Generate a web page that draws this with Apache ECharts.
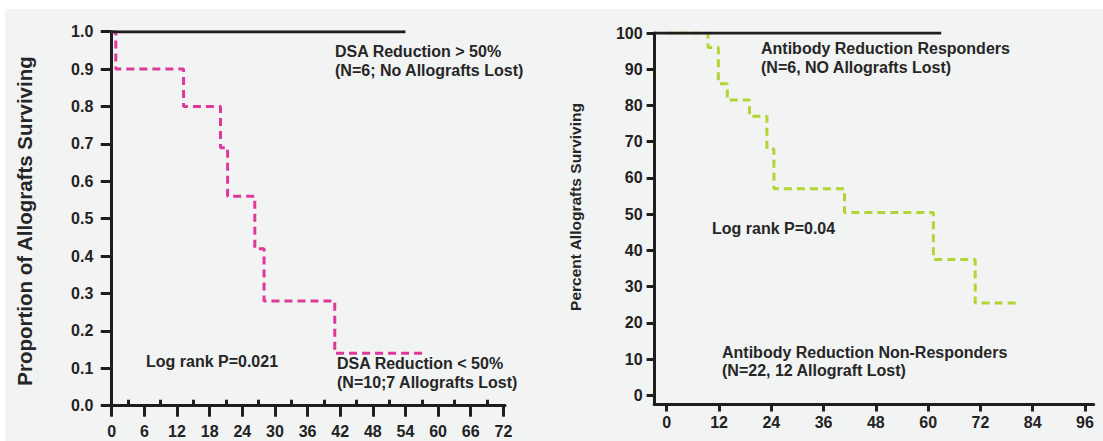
<!DOCTYPE html>
<html>
<head>
<meta charset="utf-8">
<title>Allograft survival by antibody reduction</title>
<script src="https://cdn.jsdelivr.net/npm/echarts@6/dist/echarts.min.js"></script>
<style>
  html, body { margin: 0; padding: 0; background: #ffffff; }
  #panel { position: absolute; left: 5px; top: 9px; width: 1098px; height: 432px; background: #f2f3f3; }
  #chart { position: absolute; left: 0; top: 0; width: 1103px; height: 441px; }
</style>
</head>
<body>
<div id="panel"></div>
<div id="chart"></div>
<script>
// ---- Left panel: DSA reduction (proportion of allografts surviving) ----
// Kaplan-Meier steps for DSA reduction < 50% (month of event, survival after it)
const dsaLowMonths   = [0, 0.75, 13.2, 20, 21.3, 26.3, 28, 41, 57.3];
const dsaLowSurvival = [1, 0.9, 0.8, 0.69, 0.56, 0.42, 0.28, 0.14, 0.14];
// DSA reduction > 50%: no losses over follow-up
const dsaHighMonths   = [0, 54];
const dsaHighSurvival = [1, 1];
const dsaXTicks      = [0, 6, 12, 18, 24, 30, 36, 42, 48, 54, 60, 66, 72];
const dsaXMinorTicks = [3, 9, 15, 21, 27, 33, 39, 45, 51, 57, 63, 69];
const dsaYTicks      = [0, 0.1, 0.2, 0.3, 0.4, 0.5, 0.6, 0.7, 0.8, 0.9, 1.0];

// ---- Right panel: antibody reduction (percent allografts surviving) ----
// Non-responders (N=22)
const abNonMonths   = [0, 9.5, 11.85, 13.9, 19, 23, 24.6, 40.8, 61.2, 70.8, 80.3];
const abNonSurvival = [100, 96, 86, 81.5, 77, 68, 57, 50.5, 37.5, 25.5, 25.5];
// Responders (N=6): flat at 100 from the axis to last follow-up
const abRespMonths   = [-2.9, 63];
const abRespSurvival = [100, 100];
const abXTicks = [0, 12, 24, 36, 48, 60, 72, 84, 96];
const abYTicks = [0, 10, 20, 30, 40, 50, 60, 70, 80, 90, 100];

const ink = '#1e1e1e';
const textInk = '#262626';
const pink = '#e0389a';
const green = '#b5d334';
const fontFamily = '"Liberation Sans", Arial, Helvetica, sans-serif';

const zip = (xs, ys) => xs.map((x, i) => [x, ys[i]]);

const tickFont = { fontFamily, fontWeight: 'bold', fontSize: 16, color: '#222' };

function note(text, x, y) {
  return {
    type: 'text', x, y, silent: true,
    style: {
      text, fill: textInk, fontFamily, fontWeight: 'bold', fontSize: 16,
      textAlign: 'left', textVerticalAlign: 'middle'
    }
  };
}

const chart = echarts.init(document.getElementById('chart'), null, { renderer: 'svg' });

chart.setOption({
  backgroundColor: 'transparent',
  animation: false,
  grid: [
    { left: 106.3, top: 31.7, width: 398.7, height: 378.5, outerBoundsMode: 'none' },
    { left: 654.1, top: 33, width: 439.6, height: 371, outerBoundsMode: 'none' }
  ],
  xAxis: [
    {
      type: 'value', gridIndex: 0, min: -1, max: 72.3,
      axisLine: { onZero: true, onZeroAxisIndex: 0, lineStyle: { color: ink, width: 3 } },
      axisTick: { show: true, customValues: dsaXTicks, length: 11, lineStyle: { color: ink, width: 3 } },
      axisLabel: Object.assign({ customValues: dsaXTicks, margin: 13 }, tickFont),
      splitLine: { show: false }
    },
    {
      type: 'value', gridIndex: 0, min: -1, max: 72.3, position: 'bottom',
      axisLine: { show: false, onZero: true, onZeroAxisIndex: 0 },
      axisTick: { show: true, inside: true, customValues: dsaXMinorTicks, length: 6, lineStyle: { color: ink, width: 3 } },
      axisLabel: { show: false },
      splitLine: { show: false }
    },
    {
      type: 'value', gridIndex: 1, min: -2.9, max: 98,
      axisLine: { onZero: false, lineStyle: { color: ink, width: 3 } },
      axisTick: { show: true, customValues: abXTicks, length: 7.5, lineStyle: { color: ink, width: 3 } },
      axisLabel: Object.assign({ customValues: abXTicks, margin: 10.5 }, tickFont),
      splitLine: { show: false }
    }
  ],
  yAxis: [
    {
      type: 'value', gridIndex: 0, min: -0.012, max: 1,
      axisLine: { onZero: true, lineStyle: { color: ink, width: 3 } },
      axisTick: { show: true, customValues: dsaYTicks, length: 11, lineStyle: { color: ink, width: 3 } },
      axisLabel: Object.assign({ customValues: dsaYTicks, margin: 13, formatter: v => v.toFixed(1) }, tickFont),
      splitLine: { show: false }
    },
    {
      type: 'value', gridIndex: 1, min: -2.35, max: 100,
      axisLine: { onZero: false, lineStyle: { color: ink, width: 3 } },
      axisTick: { show: true, customValues: abYTicks, length: 7.5, lineStyle: { color: ink, width: 3 } },
      axisLabel: Object.assign({ customValues: abYTicks, margin: 11.5 }, tickFont),
      splitLine: { show: false }
    }
  ],
  series: [
    {
      name: 'DSA Reduction < 50%', type: 'line', step: 'end',
      xAxisIndex: 0, yAxisIndex: 0, z: 2,
      data: zip(dsaLowMonths, dsaLowSurvival), showSymbol: false, symbol: 'none',
      lineStyle: { color: pink, width: 3, type: [8, 5] }
    },
    {
      name: 'DSA Reduction > 50%', type: 'line',
      xAxisIndex: 0, yAxisIndex: 0, z: 3,
      data: zip(dsaHighMonths, dsaHighSurvival), showSymbol: false, symbol: 'none',
      lineStyle: { color: ink, width: 3 }
    },
    {
      name: 'Antibody Reduction Non-Responders', type: 'line', step: 'end',
      xAxisIndex: 2, yAxisIndex: 1, z: 2,
      data: zip(abNonMonths, abNonSurvival), showSymbol: false, symbol: 'none',
      lineStyle: { color: green, width: 3, type: [8, 5] }
    },
    {
      name: 'Antibody Reduction Responders', type: 'line',
      xAxisIndex: 2, yAxisIndex: 1, z: 3,
      data: zip(abRespMonths, abRespSurvival), showSymbol: false, symbol: 'none',
      lineStyle: { color: ink, width: 3 }
    }
  ],
  graphic: [
    {
      type: 'text', x: 24, y: 221, rotation: Math.PI / 2, silent: true,
      style: {
        text: 'Proportion of Allografts Surviving', fill: textInk, fontFamily,
        fontWeight: 'bold', fontSize: 20.5, textAlign: 'center', textVerticalAlign: 'middle'
      }
    },
    {
      type: 'text', x: 575.5, y: 207, rotation: Math.PI / 2, silent: true,
      style: {
        text: 'Percent Allografts Surviving', fill: textInk, fontFamily,
        fontWeight: 'bold', fontSize: 15.5, textAlign: 'center', textVerticalAlign: 'middle'
      }
    },
    note('DSA Reduction > 50%', 335, 51),
    note('(N=6; No Allografts Lost)', 335, 70),
    note('Log rank P=0.021', 146, 361),
    note('DSA Reduction < 50%', 337, 363),
    note('(N=10;7 Allografts Lost)', 337, 382),
    note('Antibody Reduction Responders', 761, 48),
    note('(N=6, NO Allografts Lost)', 761, 67),
    note('Log rank P=0.04', 712, 228),
    note('Antibody Reduction Non-Responders', 722, 352),
    note('(N=22, 12 Allograft Lost)', 722, 370)
  ]
});
</script>
</body>
</html>
